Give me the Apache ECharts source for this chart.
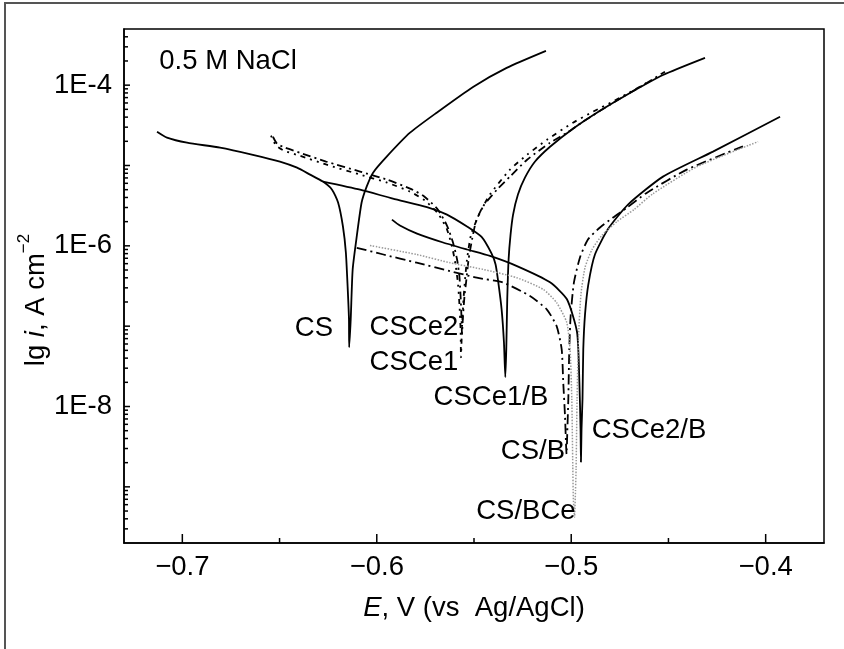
<!DOCTYPE html>
<html><head><meta charset="utf-8">
<script src="https://cdn.jsdelivr.net/npm/echarts@6/dist/echarts.min.js"></script>
<style>html,body{margin:0;padding:0;background:#fff}#c{width:844px;height:649px}</style>
</head><body><div id="c"></div>
<script>
// ---- axes ----
const E_MIN = -0.73, E_MAX = -0.37;
const I_MIN = 2e-10, I_MAX = 5e-4;
const xTickLabels = [-0.7, -0.6, -0.5, -0.4];
const xMajorTicks = [-0.7, -0.6, -0.5, -0.4];
const xMinorTicks = [-0.65, -0.55, -0.45];
const yTickLabels = [1e-8, 1e-6, 1e-4];
const yMajorTicks = [1e-9, 1e-8, 1e-7, 1e-6, 1e-5, 1e-4];
const yMinorTicks = [3e-10,4e-10,5e-10,6e-10,7e-10,8e-10,9e-10,
  2e-9,3e-9,4e-9,5e-9,6e-9,7e-9,8e-9,9e-9,
  2e-8,3e-8,4e-8,5e-8,6e-8,7e-8,8e-8,9e-8,
  2e-7,3e-7,4e-7,5e-7,6e-7,7e-7,8e-7,9e-7,
  2e-6,3e-6,4e-6,5e-6,6e-6,7e-6,8e-6,9e-6,
  2e-5,3e-5,4e-5,5e-5,6e-5,7e-5,8e-5,9e-5,
  2e-4,3e-4,4e-4];

// ---- curves: [E (V), i (A cm^-2)] ----
const cs = [[-0.7130,2.63e-5],[-0.7079,2.22e-5],[-0.6976,1.92e-5],[-0.6806,1.67e-5],[-0.6637,1.36e-5],[-0.6498,1.12e-5],[-0.6410,9.4e-6],[-0.6343,7.7e-6],[-0.6277,6.3e-6],[-0.6230,5.0e-6],[-0.6199,3.46e-6],[-0.6174,1.74e-6],[-0.6159,8.27e-7],[-0.6150,3.13e-7],[-0.6143,1.22e-7],[-0.6142,5.46e-8],[-0.6134,1.22e-7],[-0.6124,5.08e-7],[-0.6103,1.31e-6],[-0.6078,3.46e-6],[-0.6052,5.46e-6],[-0.6019,8.15e-6],[-0.5949,1.29e-5],[-0.5829,2.56e-5],[-0.5692,4.54e-5],[-0.5505,9.5e-5],[-0.5332,1.64e-4],[-0.5130,2.67e-4]];
const csce2 = [[-0.6534,2.28e-5],[-0.6513,1.87e-5],[-0.6472,1.67e-5],[-0.6395,1.44e-5],[-0.6261,1.12e-5],[-0.6086,8.4e-6],[-0.5947,6.67e-6],[-0.5829,5.16e-6],[-0.5762,4.22e-6],[-0.5690,2.91e-6],[-0.5639,1.79e-6],[-0.5608,1.10e-6],[-0.5587,6.76e-7],[-0.5575,4.16e-7],[-0.5569,2.35e-7],[-0.5564,1.22e-7],[-0.5562,7.92e-8],[-0.5557,1.29e-7],[-0.5549,2.35e-7],[-0.5539,3.82e-7],[-0.5528,6.76e-7],[-0.5510,1.2e-6],[-0.5490,2.0e-6],[-0.5454,3.08e-6],[-0.5382,5.0e-6],[-0.5315,7.27e-6],[-0.5227,1.18e-5],[-0.5109,1.92e-5],[-0.5022,2.56e-5],[-0.4939,3.51e-5],[-0.4785,6.04e-5],[-0.4610,1.07e-4],[-0.4518,1.47e-4]];
const csce1 = [[-0.6544,2.35e-5],[-0.6518,1.77e-5],[-0.6477,1.53e-5],[-0.6395,1.32e-5],[-0.6261,1.03e-5],[-0.6086,7.7e-6],[-0.5947,6.12e-6],[-0.5829,4.73e-6],[-0.5752,3.66e-6],[-0.5685,2.52e-6],[-0.5639,1.6e-6],[-0.5613,9.8e-7],[-0.5595,5.86e-7],[-0.5582,3.31e-7],[-0.5575,1.87e-7],[-0.5569,9.14e-8],[-0.5567,4.1e-8],[-0.5562,9.14e-8],[-0.5554,2.16e-7],[-0.5546,3.82e-7],[-0.5536,6.76e-7],[-0.5515,1.38e-6],[-0.5469,2.6e-6],[-0.5418,4.35e-6],[-0.5315,8.88e-6],[-0.5227,1.36e-5],[-0.5125,2.09e-5],[-0.4991,3.41e-5],[-0.4888,4.67e-5],[-0.4749,6.97e-5],[-0.4595,1.13e-4]];
const csce1b = [[-0.6277,6.3e-6],[-0.6086,5.0e-6],[-0.5917,3.87e-6],[-0.5742,3.04e-6],[-0.5639,2.45e-6],[-0.5536,1.74e-6],[-0.5461,1.29e-6],[-0.5410,8.04e-7],[-0.5389,5.86e-7],[-0.5375,3.51e-7],[-0.5358,1.62e-7],[-0.5346,6.3e-8],[-0.5339,2.32e-8],[-0.5334,5.15e-8],[-0.5329,2.16e-7],[-0.5322,6.8e-7],[-0.5312,1.38e-6],[-0.5299,2.45e-6],[-0.5274,4.35e-6],[-0.5238,7.06e-6],[-0.5186,1.12e-5],[-0.5109,1.71e-5],[-0.4991,2.87e-5],[-0.4852,4.80e-5],[-0.4698,8.0e-5],[-0.4528,1.34e-4],[-0.4312,2.19e-4]];
const csce2b = [[-0.5922,2.12e-6],[-0.5881,1.79e-6],[-0.5793,1.42e-6],[-0.5659,1.10e-6],[-0.5536,9.0e-7],[-0.5418,7.48e-7],[-0.5279,5.59e-7],[-0.5109,3.51e-7],[-0.5022,2.16e-7],[-0.4970,8.4e-8],[-0.4958,2.0e-8],[-0.4952,5.2e-9],[-0.4950,2.04e-9],[-0.4947,5.2e-9],[-0.4942,1.23e-8],[-0.4938,5.15e-8],[-0.4929,1.4e-7],[-0.4912,3.31e-7],[-0.4878,7.8e-7],[-0.4809,1.64e-6],[-0.4708,3.26e-6],[-0.4528,7.27e-6],[-0.4271,1.49e-5],[-0.3926,4.05e-5]];
const csb = [[-0.6103,9.46e-7],[-0.5966,7.8e-7],[-0.5795,6.16e-7],[-0.5623,4.84e-7],[-0.5486,4.01e-7],[-0.5349,3.48e-7],[-0.5212,2.37e-7],[-0.5126,1.62e-7],[-0.5075,1.0e-7],[-0.5049,5.15e-8],[-0.5041,1.99e-8],[-0.5032,7.66e-9],[-0.5027,3.5e-9],[-0.5024,2.56e-9],[-0.5020,5e-9],[-0.5015,1.23e-8],[-0.5010,5.15e-8],[-0.5003,1.34e-7],[-0.4986,3.51e-7],[-0.4955,7.16e-7],[-0.4914,1.2e-6],[-0.4852,1.69e-6],[-0.4785,2.25e-6],[-0.4713,2.99e-6],[-0.4612,4.56e-6],[-0.4406,8.88e-6],[-0.4117,1.73e-5]];
const csbce = [[-0.6035,1.01e-6],[-0.5795,7.8e-7],[-0.5623,6.15e-7],[-0.5452,5.08e-7],[-0.5280,4.01e-7],[-0.5144,2.87e-7],[-0.5075,1.96e-7],[-0.5023,1.11e-7],[-0.5006,5.15e-8],[-0.4997,1.23e-8],[-0.4992,1.83e-9],[-0.4989,7.07e-10],[-0.4983,4.22e-10],[-0.4978,9.0e-10],[-0.4975,1.67e-9],[-0.4970,1.23e-8],[-0.4963,6.87e-8],[-0.4950,2.49e-7],[-0.4929,5.38e-7],[-0.4893,9.0e-7],[-0.4842,1.35e-6],[-0.4765,2.0e-6],[-0.4677,2.83e-6],[-0.4579,4.47e-6],[-0.4353,9.67e-6],[-0.4039,1.98e-5]];

// ---- annotations ----
const annoTexts = ['0.5 M NaCl', 'CS', 'CSCe2', 'CSCe1', 'CSCe1/B', 'CSCe2/B', 'CS/B', 'CS/BCe'];
const annoE = [-0.6765, -0.6323, -0.5809, -0.5809, -0.5413, -0.4600, -0.5197, -0.5233];
const annoI = [1.95e-4, 9.4e-8, 9.7e-8, 3.56e-8, 1.31e-8, 5.08e-9, 2.79e-9, 5.0e-10];

const FONT = "'Liberation Sans', Arial, Helvetica, sans-serif";
const FS = 27.5;

function lineSeries(name, data, color, width, type) {
  return { name, type: 'line', data, showSymbol: false, symbol: 'none', smooth: 0.2,
    animation: false, silent: true, z: 3, lineStyle: { color, width, type } };
}
function tickSeries(values, axis, len) {
  return {
    type: 'custom', silent: true, animation: false, clip: false, z: 4,
    data: values.map(v => axis === 'y' ? [E_MIN, v] : [v, I_MIN]),
    renderItem: (params, api) => {
      const p = api.coord([api.value(0), api.value(1)]);
      const shape = axis === 'y'
        ? { x1: p[0], y1: p[1], x2: p[0] + len, y2: p[1] }
        : { x1: p[0], y1: p[1], x2: p[0], y2: p[1] - len };
      return { type: 'line', shape, style: { stroke: '#000', lineWidth: 1.5 } };
    }
  };
}

const chart = echarts.init(document.getElementById('c'), null, { renderer: 'canvas' });
chart.setOption({
  animation: false,
  backgroundColor: '#fff',
  textStyle: { fontFamily: FONT },
  grid: { left: 124, right: 20, top: 29, bottom: 106, show: true, borderColor: '#000', borderWidth: 1.5, outerBoundsMode: 'none', containLabel: false },
  xAxis: {
    type: 'value', min: E_MIN, max: E_MAX,
    axisLine: { show: true, onZero: false, lineStyle: { color: '#000', width: 1.5 } },
    axisTick: { show: false }, splitLine: { show: false },
    axisLabel: { customValues: xTickLabels, margin: 10, color: '#000', fontSize: FS, fontFamily: FONT,
      formatter: v => (v < 0 ? '\u2212' : '') + Math.abs(v).toFixed(1) },
    name: '{i|E}{a|, V (vs  Ag/AgCl)}', nameLocation: 'middle', nameGap: 51,
    nameTextStyle: { rich: {
      i: { fontSize: FS, fontStyle: 'italic', fontFamily: FONT, color: '#000' },
      a: { fontSize: FS, fontFamily: FONT, color: '#000' } } }
  },
  yAxis: {
    type: 'log', logBase: 10, min: I_MIN, max: I_MAX,
    axisLine: { show: true, onZero: false, lineStyle: { color: '#000', width: 1.5 } },
    axisTick: { show: false }, splitLine: { show: false }, minorTick: { show: false },
    axisLabel: { margin: 12, color: '#000', fontSize: FS, fontFamily: FONT,
      formatter: v => {
        const e = Math.log10(v);
        const r = Math.round(e);
        if (Math.abs(e - r) > 1e-6) return '';
        return yTickLabels.some(t => Math.abs(Math.log10(t) - r) < 1e-6) ? '1E' + r : '';
      } }
  },
  graphic: [
    { type: 'rect', silent: true, shape: { x: 5, y: 3, width: 1200, height: 1200 },
      style: { fill: 'none', stroke: '#555', lineWidth: 2 }, z: 100 },
    { type: 'text', silent: true, x: 33, y: 300, rotation: Math.PI / 2,
      style: { text: '{a|lg }{i|i}{a|, A cm}{s|\u22122}', align: 'center', verticalAlign: 'middle',
        rich: {
          a: { fontSize: FS, fontFamily: FONT, fill: '#000', lineHeight: 34, verticalAlign: 'bottom' },
          i: { fontSize: FS, fontFamily: FONT, fontStyle: 'italic', fill: '#000', lineHeight: 34, verticalAlign: 'bottom' },
          s: { fontSize: 17, fontFamily: FONT, fill: '#000', lineHeight: 34, verticalAlign: 'top' }
        } } }
  ],
  series: [
    lineSeries('CS', cs, '#000', 1.8, 'solid'),
    lineSeries('CSCe2', csce2, '#000', 1.8, [8, 4, 2, 4]),
    lineSeries('CSCe1', csce1, '#000', 1.8, [2, 5, 2, 5, 5, 5]),
    lineSeries('CSCe1/B', csce1b, '#000', 1.8, 'solid'),
    lineSeries('CSCe2/B', csce2b, '#000', 1.8, 'solid'),
    lineSeries('CS/B', csb, '#000', 1.8, [10, 4, 2, 4]),
    lineSeries('CS/BCe', csbce, '#999', 1.5, [1.5, 1.5]),
    tickSeries(yMajorTicks, 'y', 6),
    tickSeries(yMinorTicks, 'y', 4),
    tickSeries(xMajorTicks, 'x', 9),
    tickSeries(xMinorTicks, 'x', 5),
    {
      type: 'scatter', silent: true, animation: false, z: 5,
      symbol: 'circle', symbolSize: 2, itemStyle: { color: 'rgba(0,0,0,0)' },
      labelLayout: { hideOverlap: false },
      data: annoTexts.map((t, k) => ({ name: t, value: [annoE[k], annoI[k]] })),
      label: { show: true, position: 'inside', formatter: '{b}', color: '#000', opacity: 1,
        fontSize: FS, fontFamily: FONT, align: 'center', verticalAlign: 'middle' }
    }
  ]
});
</script></body></html>
